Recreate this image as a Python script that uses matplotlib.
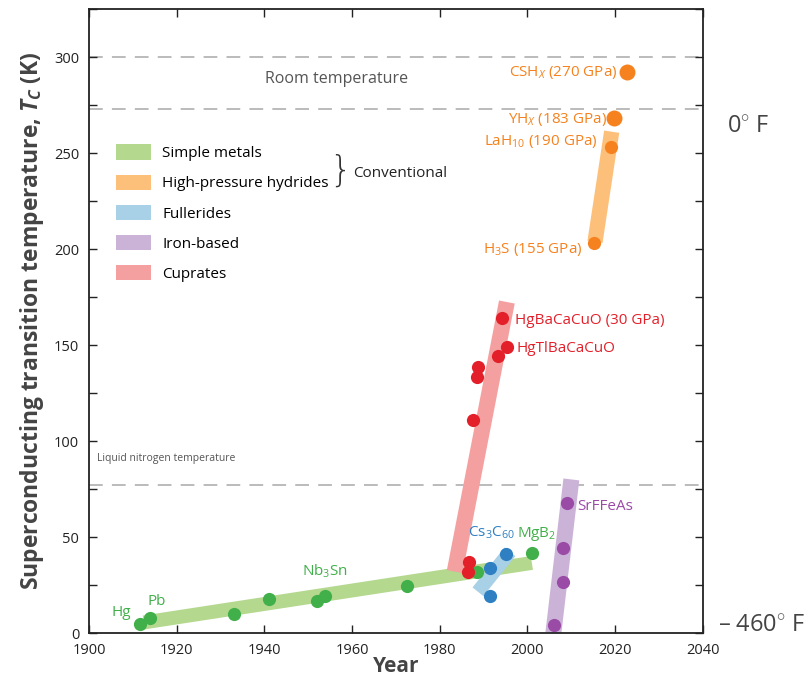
import matplotlib
matplotlib.use("Agg")
import matplotlib.pyplot as plt
from matplotlib.patches import Patch
from matplotlib.ticker import MultipleLocator

plt.rcParams['font.family'] = ['Open Sans', 'DejaVu Sans']
plt.rcParams['mathtext.fontset'] = 'custom'
plt.rcParams['mathtext.rm'] = 'Open Sans'
plt.rcParams['mathtext.it'] = 'Open Sans:italic'
plt.rcParams['mathtext.bf'] = 'Open Sans:bold'
plt.rcParams['mathtext.bfit'] = 'Open Sans:italic:bold'

# --- data (year, Tc in K) ---
metal_years = [1911.6, 1913.9, 1933.1, 1941.1, 1952.1, 1953.8, 1972.6, 1988.6, 2001.0]
metal_tc = [4.7, 7.6, 9.7, 17.7, 16.8, 19.1, 24.5, 31.9, 41.5]

hydride_years = [2015.1, 2019.0]
hydride_tc = [203, 253]
hydride_big_years = [2019.7, 2022.7]
hydride_big_tc = [268.4, 292]

fulleride_years = [1991.4, 1991.4, 1995.2]
fulleride_tc = [19.3, 34.0, 41.1]

iron_years = [2006.1, 2008.1, 2008.0, 2009.1]
iron_tc = [4.2, 26.7, 44.1, 67.5]

cuprate_years = [1986.5, 1986.7, 1987.5, 1988.5, 1988.8, 1993.3, 1995.4, 1994.3]
cuprate_tc = [31.9, 37.1, 110.9, 133.2, 138.4, 144.4, 149.1, 163.9]

# trend bands: (start year, end year), (start Tc, end Tc)
metal_band = ([1912.5, 2001.0], [5.5, 36.5])
hydride_band = ([2015.4, 2019.2], [203.8, 261.1])
fulleride_band = ([1988.7, 1996.0], [21.5, 42.3])
iron_band = ([2005.9, 2010.0], [0, 80])
cuprate_band = ([1983.4, 1995.3], [32, 172.4])

ref_lines = [300, 273, 77]

categories = ["Simple metals", "High-pressure hydrides", "Fullerides", "Iron-based", "Cuprates"]
band_colors = ["#b3d88e", "#fdc07a", "#a8d0e6", "#cbb3d8", "#f5a0a0"]
dot_colors = ["#42b04a", "#f5821f", "#2f80c3", "#9a4ba6", "#e3202a"]

fig = plt.figure(figsize=(8.11, 6.79), dpi=100)
ax = fig.add_axes([0.1097, 0.0677, 0.757, 0.919])

# reference temperatures
for t in ref_lines:
    ax.axhline(t, color="#a8a8a8", lw=1.1, dashes=(9, 6), zorder=1)

# bands
bands = [metal_band, hydride_band, fulleride_band, iron_band, cuprate_band]
widths = [10, 11, 10, 11.5, 11.5]
orders = [2, 2, 3, 2, 3]
for (bx, by), c, w, z in zip(bands, band_colors, widths, orders):
    ax.plot(bx, by, color=c, lw=w, solid_capstyle="butt", zorder=z)

ms = 9.5
ax.plot(metal_years, metal_tc, "o", color=dot_colors[0], ms=ms, mec="none", zorder=5)
ax.plot(hydride_years, hydride_tc, "o", color=dot_colors[1], ms=ms, mec="none", zorder=5)
ax.plot(hydride_big_years, hydride_big_tc, "o", color=dot_colors[1], ms=11.5, mec="none", zorder=5)
ax.plot(fulleride_years, fulleride_tc, "o", color=dot_colors[2], ms=ms, mec="none", zorder=5)
ax.plot(iron_years, iron_tc, "o", color=dot_colors[3], ms=ms, mec="none", zorder=5)
ax.plot(cuprate_years, cuprate_tc, "o", color=dot_colors[4], ms=ms, mec="none", zorder=6)

# labels on points
fs = 11
ax.text(1905.2, 10.5, "Hg", color=dot_colors[0], fontsize=fs, va="center")
ax.text(1913.3, 16.5, "Pb", color=dot_colors[0], fontsize=fs, va="center")
ax.text(1953.8, 32, "Nb$_3$Sn", color=dot_colors[0], fontsize=fs, va="center", ha="center")
ax.text(1991.8, 52, "Cs$_3$C$_{60}$", color=dot_colors[2], fontsize=fs, va="center", ha="center")
ax.text(2002.0, 51.5, "MgB$_2$", color=dot_colors[0], fontsize=fs, va="center", ha="center")
ax.text(2011.4, 66, "SrFFeAs", color=dot_colors[3], fontsize=fs, va="center")
ax.text(1997.2, 163, "HgBaCaCuO (30 GPa)", color=dot_colors[4], fontsize=fs, va="center")
ax.text(1997.6, 148, "HgTlBaCaCuO", color=dot_colors[4], fontsize=fs, va="center")
ax.text(2020.6, 292, "CSH$_X$ (270 GPa)", color=dot_colors[1], fontsize=fs, va="center", ha="right")
ax.text(2018.2, 267.5, "YH$_X$ (183 GPa)", color=dot_colors[1], fontsize=fs, va="center", ha="right")
ax.text(2016.0, 256, "LaH$_{10}$ (190 GPa)", color=dot_colors[1], fontsize=fs, va="center", ha="right")
ax.text(2012.6, 199.5, "H$_3$S (155 GPa)", color=dot_colors[1], fontsize=fs, va="center", ha="right")

ax.text(1956.5, 288.5, "Room temperature", color="#555555", fontsize=11.5, va="center", ha="center")
ax.text(1901.8, 91, "Liquid nitrogen temperature", color="#555555", fontsize=7.5, va="center")

# legend
handles = [Patch(facecolor=c, edgecolor="none") for c in band_colors]
leg = ax.legend(handles, categories, loc="upper left", bbox_to_anchor=(0.022, 0.805),
                frameon=False, fontsize=11, handlelength=2.3, handleheight=1.15,
                labelspacing=0.88, handletextpad=0.7)
ax.text(0.41, 0.741, "}", transform=ax.transAxes, fontsize=25, va="center",
        ha="center", color="#333333", family="DejaVu Sans", fontweight="light")
ax.text(0.43, 0.737, "Conventional", transform=ax.transAxes, fontsize=11,
        va="center", color="#222222")

# Fahrenheit marks on the right
ax.text(1.04, 0.813, "0$^{\\circ}$ F", transform=ax.transAxes, fontsize=17,
        va="center", color="#444444")
ax.text(1.025, 0.013, "\u2013 460$^{\\circ}$ F", transform=ax.transAxes, fontsize=17,
        va="center", color="#444444")

ax.set_xlim(1900, 2040)
ax.set_ylim(0, 325)
ax.xaxis.set_major_locator(MultipleLocator(20))
ax.yaxis.set_major_locator(MultipleLocator(50))
ax.yaxis.set_minor_locator(MultipleLocator(25))
ax.tick_params(which="both", direction="in", top=True, right=True, length=6,
               width=1, labelsize=10.5, colors="#222222")
ax.tick_params(axis="x", pad=7)
ax.tick_params(axis="y", pad=7)
for s in ax.spines.values():
    s.set_linewidth(1.3)
    s.set_color("#222222")

ax.set_xlabel("Year", fontsize=15, fontweight="bold", color="#444444", labelpad=-1)
ax.set_ylabel("Superconducting transition temperature, $\\mathbfit{T_C}$ (K)",
              fontsize=16.5, fontweight="bold", color="#444444", labelpad=6)

fig.savefig("out.png", dpi=100)
